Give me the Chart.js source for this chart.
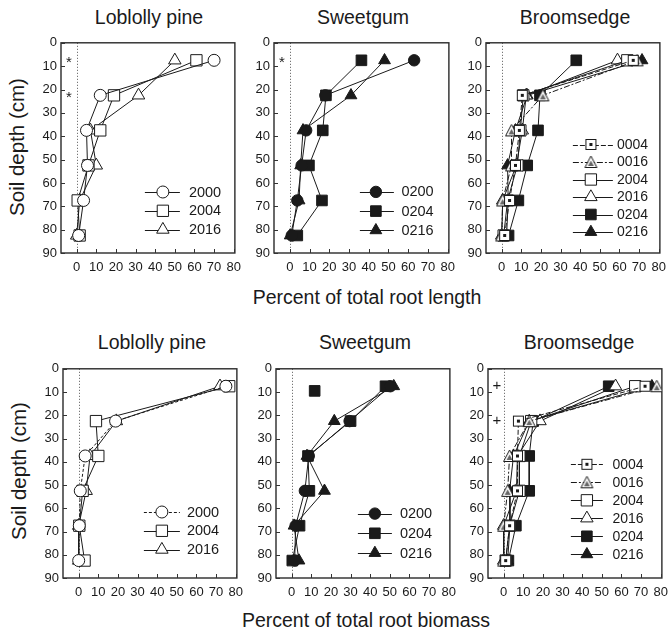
<!DOCTYPE html>
<html><head><meta charset="utf-8">
<script src="https://cdn.jsdelivr.net/npm/chart.js@4.4.1/dist/chart.umd.min.js"></script>
<style>
html,body{margin:0;padding:0;background:#fff;width:670px;height:633px;overflow:hidden;position:relative;font-family:"Liberation Sans",Arial,Helvetica,sans-serif;color:#1a1a1a}
canvas{position:absolute}
.t{position:absolute;white-space:nowrap;transform:translate(-50%,-50%);font-size:19.5px;line-height:1}
.yl{position:absolute;white-space:nowrap;transform:translate(-50%,-50%) rotate(-90deg);font-size:20.5px;line-height:1}
</style></head><body>
<div class="t" style="left:149px;top:18px">Loblolly pine</div>
<div class="t" style="left:363px;top:18px">Sweetgum</div>
<div class="t" style="left:575px;top:18px">Broomsedge</div>
<div class="t" style="left:152px;top:343px">Loblolly pine</div>
<div class="t" style="left:365px;top:343px">Sweetgum</div>
<div class="t" style="left:579px;top:343px">Broomsedge</div>
<div class="t" style="left:367px;top:298px">Percent of total root length</div>
<div class="t" style="left:366px;top:621px">Percent of total root biomass</div>
<div class="yl" style="left:17px;top:147px">Soil depth (cm)</div>
<div class="yl" style="left:19px;top:471px">Soil depth (cm)</div>
<script>
// ---- data ----
const depths = [7.5, 22.5, 37.5, 52.5, 67.5, 82.5];
const xTicks = [0, 10, 20, 30, 40, 50, 60, 70, 80];
const yTicks = [0, 10, 20, 30, 40, 50, 60, 70, 80, 90];

// root length (%)
const pineLen2000 = [70, 12, 5, 5.5, 3.5, 1];
const pineLen2004 = [61, 19, 12, 6, 0.5, 1.5];
const pineLen2016 = [50, 31.5, 7, 10, 1.5, 0];

const sweetLen0200 = [63, 18, 8.3, 6, 3.8, 1];
const sweetLen0204 = [36.3, 18.3, 16.7, 9.7, 16.3, 3.8];
const sweetLen0216 = [48, 31, 6.7, 5.5, 4.7, 0.2];

const broomLen0004 = [67, 10.5, 9, 7, 4, 1.5];
const broomLen0016 = [69, 21, 5, 5, 0.5, 0];
const broomLen2004 = [64, 11, 9.5, 8, 3, 1];
const broomLen2016 = [59, 12.5, 10.5, 7.5, 0.5, 0];
const broomLen0204 = [38, 19.5, 18.5, 13, 8.5, 3.5];
const broomLen0216 = [71.5, 13, 7, 3, 3.3, 2.5];

// root biomass (%)
const pineBio2000 = [75, 18.8, 3.3, 0.8, 0.3, 0];
const pineBio2004 = [76.7, 8.8, 10, 2, 0.3, 3];
const pineBio2016 = [72, 19.2, 5.8, 3.8, 0, 0];

const sweetBio0200 = [50.3, 29.5, 8.7, 6.7, 2, 1.5];
const sweetBio0204 = [47.8, 30, 8.3, 9, 4, 0.3];
const sweetBio0216 = [52, 21.7, 7.8, 16.7, 1.2, 3.7];
const sweetBioExtraX = [11.7];
const sweetBioExtraDepth = [9.5];

const broomBio0004 = [72, 7.5, 7, 7, 3, 1];
const broomBio0016 = [78, 13, 3, 2, 0, 0];
const broomBio2004 = [67, 14, 8, 8, 3, 1];
const broomBio2016 = [57, 18.5, 7, 6.5, 0, 0];
const broomBio0204 = [53.5, 15, 13, 13, 6.2, 2.4];
const broomBio0216 = [75.5, 13, 5, 3, 3.2, 2];

// significance marks (x, depth, symbol)
const marksPineLen = [[-4, 7.5, '*'], [-4, 22.5, '*']];
const marksSweetLen = [[-4, 7.5, '*']];
const marksBroomBio = [[-3.5, 7.5, '+'], [-3.5, 22.5, '+']];

// ---- styles ----
const INK = '#1a1a1a';
const FONT = '"Liberation Sans", Arial, Helvetica, sans-serif';

function makeDotSquare() {
  const c = document.createElement('canvas'); c.width = 15; c.height = 15;
  const x = c.getContext('2d');
  x.fillStyle = '#fff'; x.fillRect(2.5, 2.5, 10, 10);
  x.strokeStyle = INK; x.lineWidth = 1; x.strokeRect(2.5, 2.5, 10, 10);
  x.fillStyle = INK; x.fillRect(6, 6, 3, 3);
  return c;
}
function makeHatchTri() {
  const c = document.createElement('canvas'); c.width = 15; c.height = 14;
  const x = c.getContext('2d');
  x.beginPath(); x.moveTo(7.5, 1); x.lineTo(1.5, 12.5); x.lineTo(13.5, 12.5); x.closePath();
  x.fillStyle = '#fff'; x.fill(); x.strokeStyle = INK; x.lineWidth = 1; x.stroke();
  x.beginPath(); x.moveTo(7.5, 5.5); x.lineTo(4.5, 11); x.lineTo(10.5, 11); x.closePath();
  x.fillStyle = '#666'; x.fill();
  return c;
}
const dotSquare = makeDotSquare();
const hatchTri = makeHatchTri();

const styles = {
  '2000': {ps: 'circle', r: 6, fill: '#fff'},
  '2004': {ps: 'rect', r: 8, fill: '#fff'},
  '2016': {ps: 'triangle', r: 7.2, fill: '#fff'},
  '0200': {ps: 'circle', r: 5.7, fill: INK},
  '0204': {ps: 'rect', r: 7.5, fill: INK},
  '0216': {ps: 'triangle', r: 6.8, fill: INK},
  '0004': {ps: dotSquare, r: 7, fill: '#fff', dash: [5, 2]},
  '0016': {ps: hatchTri, r: 7, fill: '#fff', dash: [6, 2, 2, 2]}
};

function mkDs(key, vals, extra) {
  const s = styles[key];
  return Object.assign({
    label: key,
    data: depths.map((d, i) => ({x: vals[i], y: d})),
    showLine: true, tension: 0, fill: false,
    borderColor: INK, borderWidth: 1, borderDash: s.dash || [],
    pointStyle: s.ps, pointRadius: s.r,
    pointBackgroundColor: s.fill, pointBorderColor: INK, pointBorderWidth: 1
  }, extra || {});
}

function drawMarker(ctx, ps, r, fill, x, y) {
  if (typeof ps !== 'string') { ctx.drawImage(ps, x - ps.width / 2, y - ps.height / 2); return; }
  ctx.beginPath();
  if (ps === 'circle') ctx.arc(x, y, r, 0, Math.PI * 2);
  else if (ps === 'rect') { const s = Math.SQRT1_2 * r; ctx.rect(x - s, y - s, 2 * s, 2 * s); }
  else if (ps === 'triangle') {
    ctx.moveTo(x, y - r);
    ctx.lineTo(x - Math.sin(Math.PI / 3) * r, y + r / 2);
    ctx.lineTo(x + Math.sin(Math.PI / 3) * r, y + r / 2);
    ctx.closePath();
  }
  ctx.fillStyle = fill; ctx.fill();
  ctx.setLineDash([]); ctx.lineWidth = 1; ctx.strokeStyle = INK; ctx.stroke();
}

// frame, inward ticks, dotted zero line, inside legend, marks
const framePlugin = {
  id: 'frame',
  beforeDatasetsDraw(c) {
    const {ctx, chartArea: a} = c; const x = c.scales.x, y = c.scales.y;
    ctx.save();
    const zx = Math.round(x.getPixelForValue(0)) + 0.5;
    ctx.strokeStyle = '#555'; ctx.lineWidth = 1; ctx.setLineDash([1, 2]);
    ctx.beginPath(); ctx.moveTo(zx, a.top); ctx.lineTo(zx, a.bottom); ctx.stroke();
    ctx.setLineDash([]);
    ctx.strokeStyle = '#2a2a2a'; ctx.lineWidth = 1.4;
    ctx.strokeRect(a.left, a.top, a.right - a.left, a.bottom - a.top);
    ctx.lineWidth = 1; ctx.strokeStyle = '#333';
    ctx.beginPath();
    x.ticks.forEach((t, i) => { const px = Math.round(x.getPixelForTick(i)) + 0.5; ctx.moveTo(px, a.bottom); ctx.lineTo(px, a.bottom - 4); });
    y.ticks.forEach((t, i) => { const py = Math.round(y.getPixelForTick(i)) + 0.5; ctx.moveTo(a.left, py); ctx.lineTo(a.left + 4, py); });
    ctx.stroke();
    ctx.restore();
  },
  afterDraw(c) {
    const o = c.options.plugins.inLegend; const {ctx, chartArea: a} = c;
    ctx.save();
    (o.marks || []).forEach(m => {
      ctx.fillStyle = INK; ctx.font = '15px ' + FONT; ctx.textAlign = 'center'; ctx.textBaseline = 'middle';
      ctx.fillText(m[2], c.scales.x.getPixelForValue(m[0]), c.scales.y.getPixelForValue(m[1]) + (m[2] === '*' ? 3 : 0));
    });
    const items = c.data.datasets.filter(d => !d.noLegend);
    const n = items.length;
    items.forEach((d, i) => {
      const yy = a.bottom + o.last - (n - 1 - i) * o.gap;
      ctx.strokeStyle = INK; ctx.lineWidth = 1; ctx.setLineDash(d.borderDash || []);
      ctx.beginPath(); ctx.moveTo(a.right + o.l0, Math.round(yy) + 0.5); ctx.lineTo(a.right + o.l1, Math.round(yy) + 0.5); ctx.stroke();
      drawMarker(ctx, d.pointStyle, d.pointRadius, d.pointBackgroundColor, a.right + o.mk, yy);
      ctx.fillStyle = INK; ctx.font = o.fs + 'px ' + FONT; ctx.textAlign = 'left'; ctx.textBaseline = 'middle';
      ctx.fillText(d.label, a.right + o.tx, yy + 0.5);
    });
    ctx.restore();
  }
};

const YW = 34, PT = 10, PR = 10, XH = 28;

const panels = [
  {box: [61, 41, 177, 212], ds: [mkDs('2000', pineLen2000), mkDs('2004', pineLen2004), mkDs('2016', pineLen2016)],
   leg: {last: -23.4, gap: 18.8, l0: -90, l1: -55, mk: -72, tx: -46, fs: 14.5, marks: marksPineLen}},
  {box: [274, 41, 178, 212], ds: [mkDs('0200', sweetLen0200), mkDs('0204', sweetLen0204), mkDs('0216', sweetLen0216)],
   leg: {last: -22.7, gap: 19.2, l0: -89, l1: -55, mk: -73, tx: -47.5, fs: 14.5, marks: marksSweetLen}},
  {box: [486, 41, 177, 212], ds: [mkDs('0004', broomLen0004), mkDs('0016', broomLen0016), mkDs('2004', broomLen2004), mkDs('2016', broomLen2016), mkDs('0204', broomLen0204), mkDs('0216', broomLen0216)],
   leg: {last: -21, gap: 17.5, l0: -87, l1: -47, mk: -69, tx: -43, fs: 14, marks: []}},
  {box: [63, 367, 177, 211], ds: [mkDs('2000', pineBio2000, {borderDash: [3, 2]}), mkDs('2004', pineBio2004), mkDs('2016', pineBio2016)],
   leg: {last: -28.4, gap: 18.8, l0: -93, l1: -57, mk: -75, tx: -50, fs: 14.5, marks: []}},
  {box: [276, 367, 177, 211], ds: [mkDs('0200', sweetBio0200), mkDs('0204', sweetBio0204), mkDs('0216', sweetBio0216),
     Object.assign(mkDs('0204', sweetBio0204), {label: '0204 extra', noLegend: true, showLine: false,
       data: sweetBioExtraX.map((v, i) => ({x: v, y: sweetBioExtraDepth[i]}))})],
   leg: {last: -25, gap: 19.7, l0: -92, l1: -58, mk: -75, tx: -50, fs: 14.5, marks: []}},
  {box: [488, 367, 177, 211], ds: [mkDs('0004', broomBio0004), mkDs('0016', broomBio0016), mkDs('2004', broomBio2004), mkDs('2016', broomBio2016), mkDs('0204', broomBio0204), mkDs('0216', broomBio0216)],
   leg: {last: -23.7, gap: 18, l0: -91, l1: -59, mk: -75, tx: -49.5, fs: 14, marks: marksBroomBio}}
];

const tickFont = {size: 13, family: FONT};
panels.forEach(p => {
  const [L, T, W, H] = p.box;
  const cv = document.createElement('canvas');
  cv.width = YW + W + PR; cv.height = PT + H + XH;
  cv.style.left = (L - YW) + 'px'; cv.style.top = (T - PT) + 'px';
  cv.style.width = cv.width + 'px'; cv.style.height = cv.height + 'px';
  document.body.appendChild(cv);
  new Chart(cv, {
    type: 'scatter',
    data: {datasets: p.ds},
    plugins: [framePlugin],
    options: {
      responsive: false, animation: false, events: [], devicePixelRatio: 1,
      layout: {padding: {top: PT, right: PR, left: 0, bottom: 0}},
      plugins: {legend: {display: false}, tooltip: {enabled: false}, inLegend: p.leg},
      scales: {
        x: {type: 'linear', min: -8, max: 80.6,
            afterBuildTicks: s => { s.ticks = xTicks.map(v => ({value: v})); },
            afterFit: s => { s.height = XH; },
            grid: {display: false, drawTicks: false}, border: {display: false},
            ticks: {padding: 7, font: tickFont, color: INK, maxRotation: 0, autoSkip: false}},
        y: {type: 'linear', reverse: true, min: 0, max: 90,
            afterBuildTicks: s => { s.ticks = yTicks.map(v => ({value: v})); },
            afterFit: s => { s.width = YW; },
            grid: {display: false, drawTicks: false}, border: {display: false},
            ticks: {padding: 4, font: tickFont, color: INK, autoSkip: false}}
      }
    }
  });
});
</script>
</body></html>
